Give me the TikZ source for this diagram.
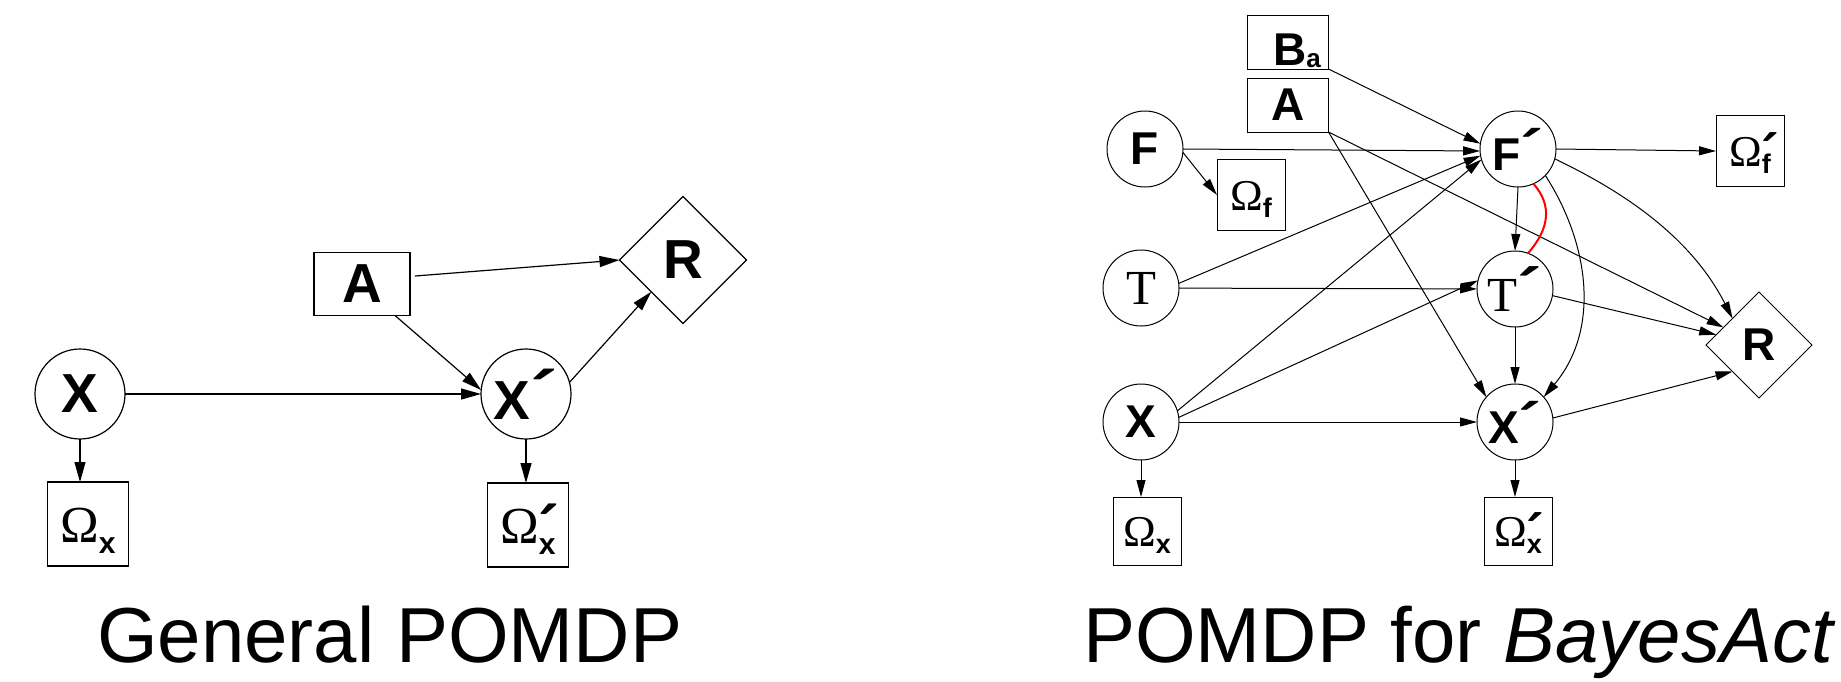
\documentclass[tikz,border=0pt]{standalone}
\usepackage{fontspec}
\setmainfont{Liberation Sans}
\newfontfamily\seriffam{Liberation Serif}
\usetikzlibrary{arrows.meta,shapes.geometric,calc}
\newcommand{\prm}{\raisebox{0em}{\scalebox{1.5}[1.25]{\rmfamily\bfseries\char"00B4}}}
\newcommand{\Omg}[4]{{\seriffam\fontsize{#1}{#1}\selectfont\char"03A9}\raisebox{-#3}{\fontsize{#2}{#2}\selectfont\bfseries #4}}
\newcommand{\Omgp}[4]{{\seriffam\fontsize{#1}{#1}\selectfont\char"03A9}\rlap{\fontsize{#1}{#1}\selectfont\raisebox{-0.2em}{\scalebox{1.2}[1.3]{\bfseries\char"00B4}}}\raisebox{-#3}{\fontsize{#2}{#2}\selectfont\bfseries #4}}
\begin{document}
\begin{tikzpicture}[x=1pt,y=-1pt,
  every node/.style={inner sep=0pt,outer sep=0pt},
  lc/.style={circle,draw,line width=1.2pt,minimum size=90pt,font=\fontsize{55}{55}\selectfont\bfseries},
  lb/.style={rectangle,draw,line width=1.2pt,minimum width=96pt,minimum height=63pt,font=\fontsize{55}{55}\selectfont\bfseries},
  lom/.style={rectangle,draw,line width=1.2pt,minimum width=81pt,minimum height=84pt,text height=36pt,text depth=0pt},
  ld/.style={diamond,draw,line width=1.2pt,minimum width=127pt,minimum height=127pt,font=\fontsize{55}{55}\selectfont\bfseries},
  larr/.style={draw,line width=1.2pt,-{Triangle[length=20pt,width=11pt]}},
  rc/.style={circle,draw,line width=1pt,minimum size=76pt,font=\fontsize{46}{46}\selectfont\bfseries},
  rtc/.style={rc,font=\seriffam\fontsize{49}{49}\selectfont},
  rb/.style={rectangle,draw,line width=1pt,minimum width=81pt,minimum height=54pt,font=\fontsize{46}{46}\selectfont\bfseries},
  rom/.style={rectangle,draw,line width=1pt,minimum width=68pt,minimum height=71pt,text height=30pt,text depth=0pt},
  rd/.style={diamond,draw,line width=1pt,minimum width=106pt,minimum height=106pt,font=\fontsize{46}{46}\selectfont\bfseries},
  rarr/.style={draw,line width=1pt,-{Triangle[length=17pt,width=9pt]}},
  captxt/.style={anchor=base west,font=\fontsize{78}{78}\selectfont}
]
\useasboundingbox (0,0) rectangle (1841,681);

% ---------- left: General POMDP ----------
\node[lc] (lX) at (80,394) {X};
\node[lom] (lOx) at (88,524) {\Omg{52}{30}{11pt}{x}};
\node[lb] (lA) at (362,284) {A};
\node[lc] (lXp) at (526,394) {X\prm};
\node[lom] (lOxp) at (528,525) {\Omgp{52}{30}{11pt}{x}};
\node[ld] (lR) at (683,260) {R};

\draw[larr] (lX) -- (lXp);
\draw[larr] ([xshift=33pt]lA.south) -- (lXp.175);
\draw[larr] ([shift={(5pt,8pt)}]lA.east) -- (lR.west);
\draw[larr] (lXp.15) -- (lR.south west);
\draw[larr] (lX.south) -- (lX.south |- lOx.north);
\draw[larr] (lXp.south) -- (lXp.south |- lOxp.north);

% ---------- right: POMDP for BayesAct ----------
\node[rb,text height=46pt,text depth=0pt] (Ba) at (1288,42) {\hspace*{18pt}B\raisebox{-2pt}{\fontsize{26}{26}\selectfont a}};
\node[rb] (rA) at (1288,105) {A};
\node[rc] (F) at (1145,149) {F};
\node[rom] (Of) at (1251,195) {\Omg{44}{27}{7pt}{f}};
\node[rc] (Fp) at (1518,149) {F\prm};
\node[rom] (Ofp) at (1750,151) {\Omgp{44}{27}{7pt}{f}};
\node[rtc] (T) at (1141,288) {T};
\node[rtc] (Tp) at (1515,289) {T\prm};
\node[rc] (X) at (1141,422) {X};
\node[rc] (Xp) at (1515,422) {X\prm};
\node[rd] (R) at (1759,345) {R};
\node[rom,minimum height=68pt] (Ox) at (1147,531) {\Omg{44}{27}{7pt}{x}};
\node[rom,minimum height=68pt] (Oxp) at (1518,531) {\Omgp{44}{27}{7pt}{x}};

\draw[rarr] (Ba.south east) -- (Fp.172);
\draw[rarr] (F.east) -- (Fp.183);
\draw[rarr] (F.-5) -- (Of.west);
\draw[rarr] (rA.south east) -- (Xp.139);
\draw[rarr] (rA.south east) -- (R);
\draw[rarr] (T.7) -- (Fp.190);
\draw[rarr] (T) -- (Tp);
\draw[rarr] (X.17) -- (Fp.196);
\draw[rarr] (X.7) -- (Tp.167);
\draw[rarr] (X) -- (Xp);
\draw[rarr] (Fp.east) -- (Ofp.west);
\draw[rarr] (Fp.south) -- (Tp.north);
\draw[rarr] (Tp.south) -- (Xp.north);
\draw[rarr] (Fp.-44) .. controls (1590,245) and (1600,330) .. (Xp.41);
\draw[rarr] (Fp.-15) .. controls (1620,190) and (1690,235) .. (R.north west);
\draw[red,line width=2pt] (Fp.-66) .. controls (1552,205) and (1550,228) .. (Tp.70);
\draw[rarr] (Tp.-10) -- (R);
\draw[rarr] (Xp.6) -- (R.south west);
\draw[rarr] (X.south) -- (X.south |- Ox.north);
\draw[rarr] (Xp.south) -- (Xp.south |- Oxp.north);

% ---------- captions ----------
\node[captxt] (c1) at (97,662) {General POMDP};
\node[captxt] (c2) at (1083,662) {POMDP for \textit{BayesAct}};
\end{tikzpicture}
\end{document}
